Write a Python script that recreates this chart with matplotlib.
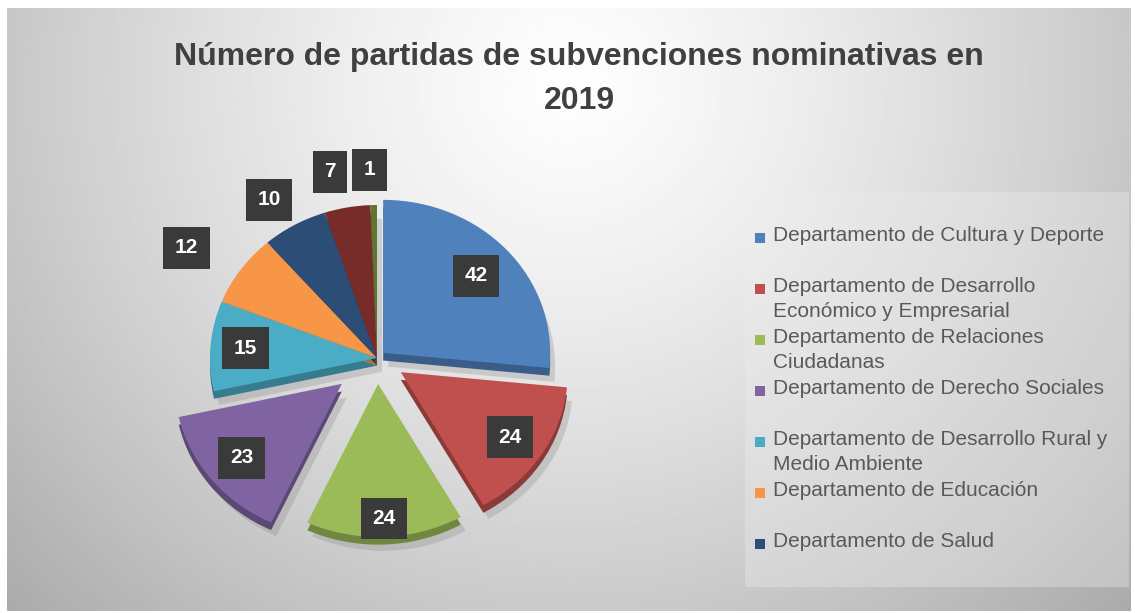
import numpy as np
import matplotlib.pyplot as plt
from matplotlib.patches import Rectangle
from matplotlib.colors import to_rgb

# datos
departamentos = ['Departamento de Cultura y Deporte',
                 'Departamento de Desarrollo\nEconómico y Empresarial',
                 'Departamento de Relaciones\nCiudadanas',
                 'Departamento de Derecho Sociales',
                 'Departamento de Desarrollo Rural y\nMedio Ambiente',
                 'Departamento de Educación',
                 'Departamento de Salud',
                 'Otros (7)',
                 'Otros (1)']
partidas = [42, 24, 24, 23, 15, 12, 10, 7, 1]
n_leyenda = 7

colores = ['#4F81BD', '#C0504D', '#9BBB59', '#8064A2', '#4BACC6',
           '#F79646', '#2C4D75', '#772C2A', '#5F7530']
separacion = [0.05, 0.17, 0.17, 0.27, 0, 0, 0, 0, 0]
dist_etiqueta = [0.75, 0.78, 0.88, 0.77, 0.79, 1.35, 1.22, 1.25, 1.23]
giro_etiqueta = [0, 0, 0, 0, 0, 3, 2.4, 2.7, 1]

W, H = 1135, 613
fig = plt.figure(figsize=(W / 100, H / 100), dpi=100)
fig.patch.set_facecolor('white')

# fondo con degradado
bg = fig.add_axes([7 / W, 2 / H, (W - 11) / W, (H - 10) / H])
yy, xx = np.mgrid[0:1:300j, 0:1:600j]
d = np.sqrt(((xx - 0.5) / 0.55) ** 2 + ((yy - 0.12) / 1.0) ** 2)
grad = np.clip(0.995 - 0.24 * d ** 1.3, 0, 1)
bg.imshow(grad, cmap='gray', vmin=0, vmax=1, aspect='auto', extent=(0, 1, 1, 0))
bg.set_xlim(0, 1)
bg.set_ylim(1, 0)
bg.axis('off')
fig.patches.append(Rectangle((745 / W, 26 / H), 384 / W, 395 / H, transform=fig.transFigure,
                             fc='#eeeeee', ec='none', alpha=0.35, zorder=0.5))

# pastel
cx, cy, rx, ry = 377, 358, 167, 153
lim = 1.5
ax = fig.add_axes([(cx - lim * rx) / W, (H - cy - lim * ry) / H,
                   2 * lim * rx / W, 2 * lim * ry / H])
ax.patch.set_alpha(0)

sombra = ax.pie(partidas, explode=separacion, startangle=90, counterclock=False,
                colors=['#8a8a8a'] * len(partidas), center=(0.03, -0.09),
                wedgeprops=dict(alpha=0.3, linewidth=0))
lado = ax.pie(partidas, explode=separacion, startangle=90, counterclock=False,
              colors=[tuple(c * 0.72 for c in to_rgb(col)) for col in colores],
              center=(0, -0.05), wedgeprops=dict(linewidth=0))
wedges, _ = ax.pie(partidas, explode=separacion, startangle=90, counterclock=False,
                   colors=colores, wedgeprops=dict(linewidth=0))

for w, v, r, g in zip(wedges, partidas, dist_etiqueta, giro_etiqueta):
    ang = np.deg2rad((w.theta1 + w.theta2) / 2 + g)
    x = w.center[0] + r * np.cos(ang)
    y = w.center[1] + r * np.sin(ang)
    ax.text(x, y, str(v), ha='center', va='center', color='white', fontsize=15,
            fontweight='bold', family=['Liberation Sans', 'DejaVu Sans'],
            bbox=dict(boxstyle='square,pad=0.55', fc='#3a3a3a', ec='none'))

ax.set_aspect('auto')
ax.set_xlim(-lim, lim)
ax.set_ylim(-lim, lim)
ax.axis('off')

# titulo
fig.text(579 / W, 1 - 57 / H, 'Número de partidas de subvenciones nominativas en',
         ha='center', va='center', fontsize=23, fontweight='bold', color='#404040',
         family=['Liberation Sans', 'DejaVu Sans'])
fig.text(579 / W, 1 - 101 / H, '2019', ha='center', va='center', fontsize=23,
         fontweight='bold', color='#404040',
         family=['Liberation Sans', 'DejaVu Sans'])

# leyenda
for i in range(n_leyenda):
    yc = 238 + 51 * i
    fig.patches.append(Rectangle((755 / W, 1 - (yc + 5) / H), 10 / W, 10 / H,
                                 transform=fig.transFigure, fc=colores[i], ec='none'))
    fig.text(773 / W, 1 - (yc - 12) / H, departamentos[i], ha='left', va='top',
             fontsize=15, color='#595959', linespacing=1.4,
             family=['Liberation Sans', 'DejaVu Sans'])

fig.savefig('out.png', dpi=100)
